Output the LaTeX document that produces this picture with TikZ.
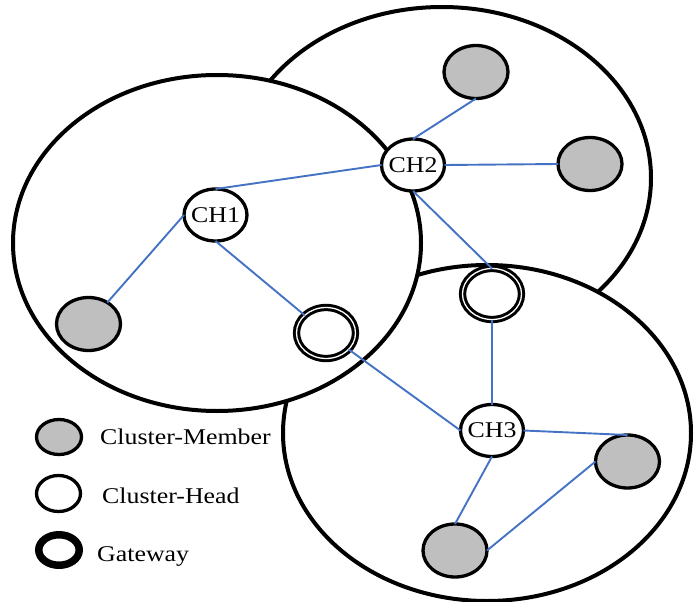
\documentclass[tikz,border=0pt]{standalone}
\usepackage{fontspec}
\setmainfont{Liberation Serif}[FakeStretch=1.15]
\usetikzlibrary{shapes.geometric}
\definecolor{linkblue}{HTML}{4472C4}
\begin{document}
\begin{tikzpicture}[x=1pt,y=-1pt,
  region/.style={draw=black,line width=4pt,fill=white},
  head/.style={ellipse,draw=black,line width=3.3pt,fill=white,minimum width=63pt,minimum height=52pt,inner sep=0pt,outer sep=0pt,font=\fontsize{22.5}{27}\selectfont},
  member/.style={ellipse,draw=black,line width=3.3pt,fill=black!25,minimum width=64pt,minimum height=53pt,inner sep=0pt,outer sep=0pt},
  gateway/.style={ellipse,draw=black,line width=3pt,double=white,double distance=1.3pt,fill=white,minimum width=59pt,minimum height=51pt,inner sep=0pt,outer sep=0pt},
  legendgate/.style={ellipse,draw=black,line width=7.5pt,fill=white,minimum width=40.5pt,minimum height=30.5pt,inner sep=0pt,outer sep=0pt},
  link/.style={draw=linkblue,line width=1.9pt},
  legendtext/.style={anchor=base west,inner sep=0pt,font=\fontsize{22.5}{27}\selectfont}]
\useasboundingbox (0,0) rectangle (699,602);
% cluster regions
\draw[region] (442,178) ellipse [x radius=209pt, y radius=171pt];
\draw[region] (487,433) ellipse [x radius=204pt, y radius=168pt];
\draw[region] (217,243) ellipse [x radius=204pt, y radius=168pt];
% nodes
\node[head] (ch1) at (215.5,215) {\makebox[0pt]{CH1}};
\node[head] (ch2) at (413,165) {\makebox[0pt]{CH2}};
\node[head] (ch3) at (492,430.5) {\makebox[0pt]{CH3}};
\node[member] (m1) at (88.5,324) {};
\node[member] (m2) at (476,72) {};
\node[member] (m3) at (590,164) {};
\node[member] (m4) at (627.5,461.5) {};
\node[member] (m5) at (455,550.5) {};
\node[gateway] (g1) at (326,333) {};
\node[gateway] (g2) at (492,294) {};
% links
\draw[link] (ch1.north) -- (ch2.west);
\draw[link] (ch1.west) -- (m1);
\draw[link] (ch1.south) -- (g1);
\draw[link] (g1) -- (ch3.west);
\draw[link] (ch2.north) -- (m2.south);
\draw[link] (ch2.east) -- (m3.west);
\draw[link] (ch2.south) -- (g2.north);
\draw[link] (g2.south) -- (ch3.north);
\draw[link] (ch3.east) -- (m4.north);
\draw[link] (ch3.south) -- (m5.north);
\draw[link] (m5.east) -- (m4.west);
% legend
\node[member,minimum width=45pt,minimum height=35pt] (lm) at (59,437) {};
\node[legendtext] (lmt) at (100,444.3) {Cluster-Member};
\node[head,minimum width=44pt,minimum height=36pt] (lh) at (58.5,493.5) {};
\node[legendtext] (lht) at (102,503.7) {Cluster-Head};
\node[legendgate] (lg) at (59,550) {};
\node[legendtext] (lgt) at (97,561) {Gateway};
\end{tikzpicture}
\end{document}
